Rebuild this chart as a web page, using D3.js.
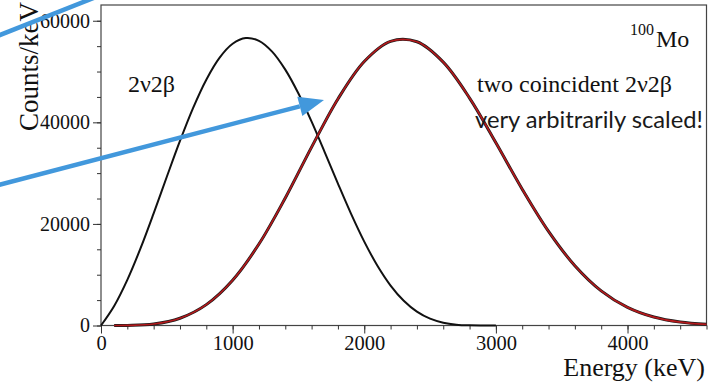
<!DOCTYPE html>
<html>
<head>
<meta charset="utf-8">
<script src="https://cdn.jsdelivr.net/npm/d3@7"></script>
<style>
  html, body { margin: 0; padding: 0; background: #fff; }
  svg { display: block; }
</style>
</head>
<body>
<svg id="chart" width="720" height="382"></svg>
<script>
// Single 2v2b sum-energy spectrum of 100Mo (keV, counts/keV)
const singleEnergy = [0,100,200,300,400,500,600,700,800,900,1000,1100,1200,1300,1400,1500,
  1600,1700,1800,1900,2000,2100,2200,2300,2400,2500,2600,2700,2800,2900,3000];
const singleCounts = [0,3850,8990,15180,22080,29280,36340,42850,48400,52690,55460,56590,56050,
  53920,50370,45670,40130,34100,27940,21980,16520,11770,7870,4870,2730,1340,550,170,30,0,0];

// Two coincident 2v2b decays (summed energy), arbitrary scale
const pairEnergy = [100,200,400,600,800,1000,1200,1400,1600,1800,2000,2200,2400,2600,2800,
  3000,3200,3400,3600,3800,4000,4200,4400,4600];
const pairCounts = [0,20,290,1430,4110,8910,16040,25110,35120,44600,51980,55950,55860,51850,
  44780,35980,26840,18530,11770,6820,3570,1660,670,230];

// Axis ticks
const xMajorTicks = [0,1000,2000,3000,4000];
const yMajorTicks = [0,20000,40000,60000];
const xDomain = [0, 4600];
const yDomain = [0, 63100];

const svg = d3.select("#chart");
const plotL = 101, plotR = 706.5, plotT = 5, plotB = 325.5;

const x = d3.scaleLinear().domain(xDomain).range([plotL, plotR]);
const y = d3.scaleLinear().domain(yDomain).range([plotB, plotT]);

const serif = "'Liberation Serif', 'DejaVu Serif', serif";

// frame
svg.append("rect")
  .attr("x", plotL).attr("y", plotT)
  .attr("width", plotR - plotL).attr("height", plotB - plotT)
  .attr("fill", "none").attr("stroke", "#444").attr("stroke-width", 1.2);

// minor + major ticks, x
const xMinor = d3.range(0, 4601, 200);
svg.append("g").attr("transform", `translate(0,${plotB})`)
  .call(d3.axisBottom(x).tickValues(xMinor).tickSize(4).tickFormat(""))
  .call(g => g.select(".domain").remove())
  .call(g => g.selectAll("line").attr("stroke", "#333"));
svg.append("g").attr("transform", `translate(0,${plotB})`)
  .call(d3.axisBottom(x).tickValues(xMajorTicks).tickSize(8).tickPadding(2).tickFormat(d3.format("d")))
  .call(g => g.select(".domain").remove())
  .call(g => g.selectAll("line").attr("stroke", "#333"))
  .call(g => g.selectAll("text").attr("font-family", serif).attr("font-size", 20.5).attr("fill", "#111"));

// minor + major ticks, y
const yMinor = d3.range(0, 60001, 5000);
svg.append("g").attr("transform", `translate(${plotL},0)`)
  .call(d3.axisLeft(y).tickValues(yMinor).tickSize(4).tickFormat(""))
  .call(g => g.select(".domain").remove())
  .call(g => g.selectAll("line").attr("stroke", "#333"));
svg.append("g").attr("transform", `translate(${plotL},0)`)
  .call(d3.axisLeft(y).tickValues(yMajorTicks).tickSize(8).tickPadding(3).tickFormat(d3.format("d")))
  .call(g => g.select(".domain").remove())
  .call(g => g.selectAll("line").attr("stroke", "#333"))
  .call(g => g.selectAll("text").attr("font-family", serif).attr("font-size", 20).attr("fill", "#111"));

// spectra
const line = d3.line().curve(d3.curveCatmullRom.alpha(0.5)).x(d => x(d[0])).y(d => y(d[1]));
const single = singleEnergy.map((e, i) => [e, singleCounts[i]]);
const pair = pairEnergy.map((e, i) => [e, pairCounts[i]]);

svg.append("path").datum(single).attr("d", line)
  .attr("fill", "none").attr("stroke", "#111").attr("stroke-width", 2);

svg.append("path").datum(pair).attr("d", line)
  .attr("fill", "none").attr("stroke", "#1a1a1a").attr("stroke-width", 3);
svg.append("path").datum(pair).attr("d", line)
  .attr("fill", "none").attr("stroke", "#b3191c").attr("stroke-width", 1.7);

// axis titles
svg.append("text").attr("x", 705).attr("y", 376).attr("text-anchor", "end")
  .attr("font-family", serif).attr("font-size", 26).attr("fill", "#111").text("Energy (keV)");
svg.append("text").attr("transform", "translate(37.5,131) rotate(-90)")
  .attr("font-family", serif).attr("font-size", 27).attr("fill", "#111").text("Counts/keV");

// labels
svg.append("text").attr("x", 128).attr("y", 92)
  .attr("font-family", serif).attr("font-size", 24).attr("fill", "#111").text("2ν2β");
svg.append("text").attr("x", 477).attr("y", 92)
  .attr("font-family", serif).attr("font-size", 24).attr("fill", "#111").text("two coincident 2ν2β");
svg.append("text").attr("x", 630).attr("y", 35)
  .attr("font-family", serif).attr("font-size", 16).attr("fill", "#111").text("100");
svg.append("text").attr("x", 656).attr("y", 47)
  .attr("font-family", serif).attr("font-size", 24).attr("fill", "#111").text("Mo");

const note = svg.append("text").attr("x", 475).attr("y", 128)
  .attr("font-family", "Lato, 'Open Sans', sans-serif").attr("font-size", 21).attr("fill", "#1a1a1a")
  .text("very arbitrarily scaled!");
const w = note.node().getComputedTextLength();
note.attr("font-size", 21 * 228 / w);

// blue pointer arrows
const blue = "rgb(66,152,220)";
svg.append("line").attr("x1", -5).attr("y1", 37).attr("x2", 96).attr("y2", -3)
  .attr("stroke", blue).attr("stroke-width", 4.5);

const tail = [-5, 186], tip = [324, 100];
const ang = Math.atan2(tip[1] - tail[1], tip[0] - tail[0]);
const headLen = 25, headHalf = 10;
const bx = tip[0] - headLen * Math.cos(ang), by = tip[1] - headLen * Math.sin(ang);
svg.append("line").attr("x1", tail[0]).attr("y1", tail[1]).attr("x2", bx).attr("y2", by)
  .attr("stroke", blue).attr("stroke-width", 4.5);
svg.append("polygon")
  .attr("points", [
    tip,
    [bx + headHalf * Math.sin(ang), by - headHalf * Math.cos(ang)],
    [bx - headHalf * Math.sin(ang), by + headHalf * Math.cos(ang)]
  ].map(p => p.join(",")).join(" "))
  .attr("fill", blue);
</script>
</body>
</html>
